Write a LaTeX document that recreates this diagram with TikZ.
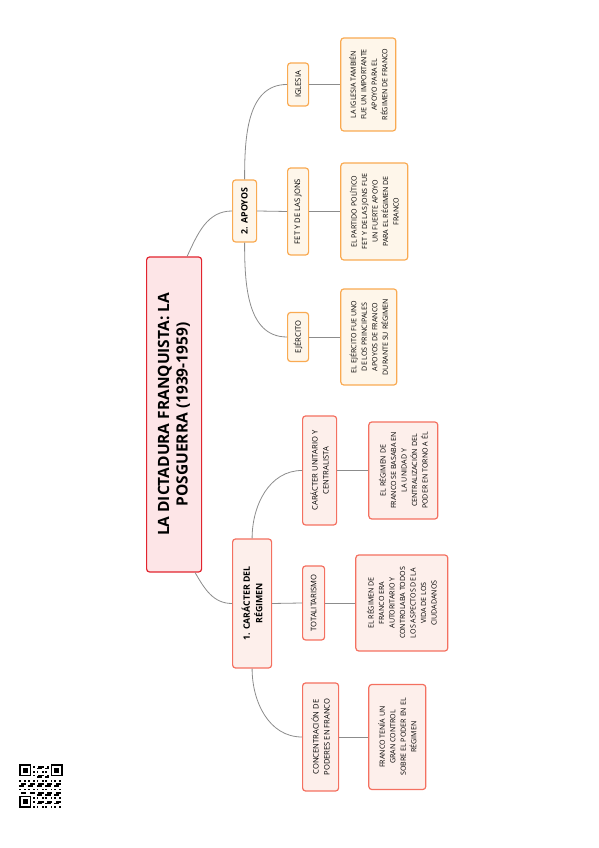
\documentclass[tikz,border=0pt]{standalone}
\usepackage{fontspec}
\setmainfont{Open Sans}
\usepackage{tikz}
\usetikzlibrary{positioning}

\definecolor{mainred}{RGB}{226,36,46}
\definecolor{mainfill}{RGB}{253,229,231}
\definecolor{salmon}{RGB}{244,112,96}
\definecolor{salmonfill}{RGB}{253,239,235}
\definecolor{amber}{RGB}{249,170,82}
\definecolor{amberfill}{RGB}{254,246,234}
\definecolor{linkgray}{RGB}{140,140,140}

\begin{document}
\begin{tikzpicture}[x=1pt,y=1pt,
	box/.style={draw, rounded corners=3pt, line width=1.2pt, rotate=90, align=center, text=black, inner sep=2pt, anchor=north},
	titlebox/.style={box, draw=mainred, fill=mainfill, font=\fontsize{15.5}{18.5}\selectfont\bfseries},
	redbranch/.style={box, draw=salmon, fill=salmonfill, font=\fontsize{8.8}{12.5}\selectfont\bfseries},
	orangebranch/.style={box, draw=amber, fill=amberfill, font=\fontsize{8.8}{12.5}\selectfont\bfseries},
	redleaf/.style={box, draw=salmon, fill=salmonfill, font=\fontsize{7.6}{11}\selectfont},
	orangeleaf/.style={box, draw=amber, fill=amberfill, font=\fontsize{7.6}{11}\selectfont},
	reddesc/.style={box, draw=salmon, fill=salmonfill, font=\fontsize{7.1}{10.5}\selectfont},
	orangedesc/.style={box, draw=amber, fill=amberfill, font=\fontsize{7.1}{10.5}\selectfont},
	link/.style={draw=linkgray, line width=0.8pt}]
	\useasboundingbox (0,0) rectangle (599,848);
	
	% centre
	\node[titlebox, minimum width=315pt, minimum height=55pt] (main) at (146,433.5) {LA DICTADURA FRANQUISTA: LA\\POSGUERRA (1939-1959)};
	
	% branches
	\node[redbranch, minimum width=129pt, minimum height=39pt] (caracter) at (232,244.5) {1. CARÁCTER DEL\\RÉGIMEN};
	\node[orangebranch, minimum width=62pt, minimum height=24pt] (apoyos) at (232,637) {2. APOYOS};
	
	% apoyos
	\node[orangeleaf, minimum width=43pt, minimum height=21pt] (iglesia) at (287,763.5) {IGLESIA};
	\node[orangeleaf, minimum width=87pt, minimum height=21pt] (fet) at (287,636.5) {FET Y DE LAS JONS};
	\node[orangeleaf, minimum width=49pt, minimum height=21pt] (ejercito) at (287,511) {EJÉRCITO};
	
	\node[orangedesc, minimum width=93pt, minimum height=55pt] (iglesiatxt) at ([xshift=31pt]iglesia.south) {LA IGLESIA TAMBIÉN\\FUE UN IMPORTANTE\\APOYO PARA EL\\RÉGIMEN DE FRANCO};
	\node[orangedesc, minimum width=97pt, minimum height=67pt] (fettxt) at ([xshift=31pt]fet.south) {EL PARTIDO POLÍTICO\\FET Y DE LAS JONS FUE\\UN FUERTE APOYO\\PARA EL RÉGIMEN DE\\FRANCO};
	\node[orangedesc, minimum width=96pt, minimum height=56pt] (ejercitotxt) at ([xshift=31pt]ejercito.south) {EL EJÉRCITO FUE UNO\\DE LOS PRINCIPALES\\APOYOS DE FRANCO\\DURANTE SU RÉGIMEN};
	
	% caracter
	\node[redleaf, minimum width=109pt, minimum height=34pt] (unitario) at (302,377.5) {CARÁCTER UNITARIO Y\\CENTRALISTA};
	\node[redleaf, minimum width=74pt, minimum height=22pt] (totalit) at (302,245) {TOTALITARISMO};
	\node[redleaf, minimum width=108pt, minimum height=36pt] (concentr) at (302,111) {CONCENTRACIÓN DE\\PODERES EN FRANCO};
	
	\node[reddesc, minimum width=97pt, minimum height=69pt] (unitariotxt) at ([xshift=31pt]unitario.south) {EL RÉGIMEN DE\\FRANCO SE BASABA EN\\LA UNIDAD Y\\CENTRALIZACIÓN DEL\\PODER EN TORNO A ÉL};
	\node[reddesc, minimum width=96pt, minimum height=92pt] (totalittxt) at ([xshift=30pt]totalit.south) {EL RÉGIMEN DE\\FRANCO ERA\\AUTORITARIO Y\\CONTROLABA TODOS\\LOS ASPECTOS DE LA\\VIDA DE LOS\\CIUDADANOS};
	\node[reddesc, minimum width=105pt, minimum height=57pt] (concentrtxt) at ([xshift=29pt]concentr.south) {FRANCO TENÍA UN\\GRAN CONTROL\\SOBRE EL PODER EN EL\\RÉGIMEN};
	
	% links
	\draw[link] ([xshift=13pt]main.east) to[out=65,in=180] (apoyos.north);
	\draw[link] ([xshift=21pt]main.west) to[out=-60,in=180] (caracter.north);
	\draw[link] (apoyos.east) to[out=90,in=180] (iglesia.north);
	\draw[link] (apoyos.south) -- (fet.north);
	\draw[link] (apoyos.west) to[out=-90,in=180] (ejercito.north);
	\draw[link] (caracter.east) to[out=90,in=180] (unitario.north);
	\draw[link] (caracter.south) -- (totalit.north);
	\draw[link] (caracter.west) to[out=-90,in=180] (concentr.north);
	\foreach \a in {iglesia,fet,ejercito,unitario,totalit,concentr}
		\draw[link] (\a.south) -- (\a txt.north);
	
	% qr code
	\begin{scope}[shift={(19,40)}, x=1.76pt, y=1.76pt]
		\foreach \i in {0,...,24}
			\foreach \j in {0,...,24}{
				\pgfmathtruncatemacro\qrskip{(\i<8 && \j>16) || (\i>16 && \j>16) || (\i<8 && \j<8)}
				\pgfmathtruncatemacro\qrbit{mod(\i*7+\j*13+\i*\j*3+\i*\i,5)<2}
				\ifnum\qrskip=0 \ifnum\qrbit=1 \fill (\i,\j) rectangle ++(1,1); \fi\fi
			}
		\foreach \p in {(0,18),(18,18),(0,0)}{
			\fill \p rectangle ++(7,7);
			\fill[white] \p ++(1,1) rectangle ++(5,5);
			\fill \p ++(2,2) rectangle ++(3,3);
		}
	\end{scope}
\end{tikzpicture}
\end{document}
